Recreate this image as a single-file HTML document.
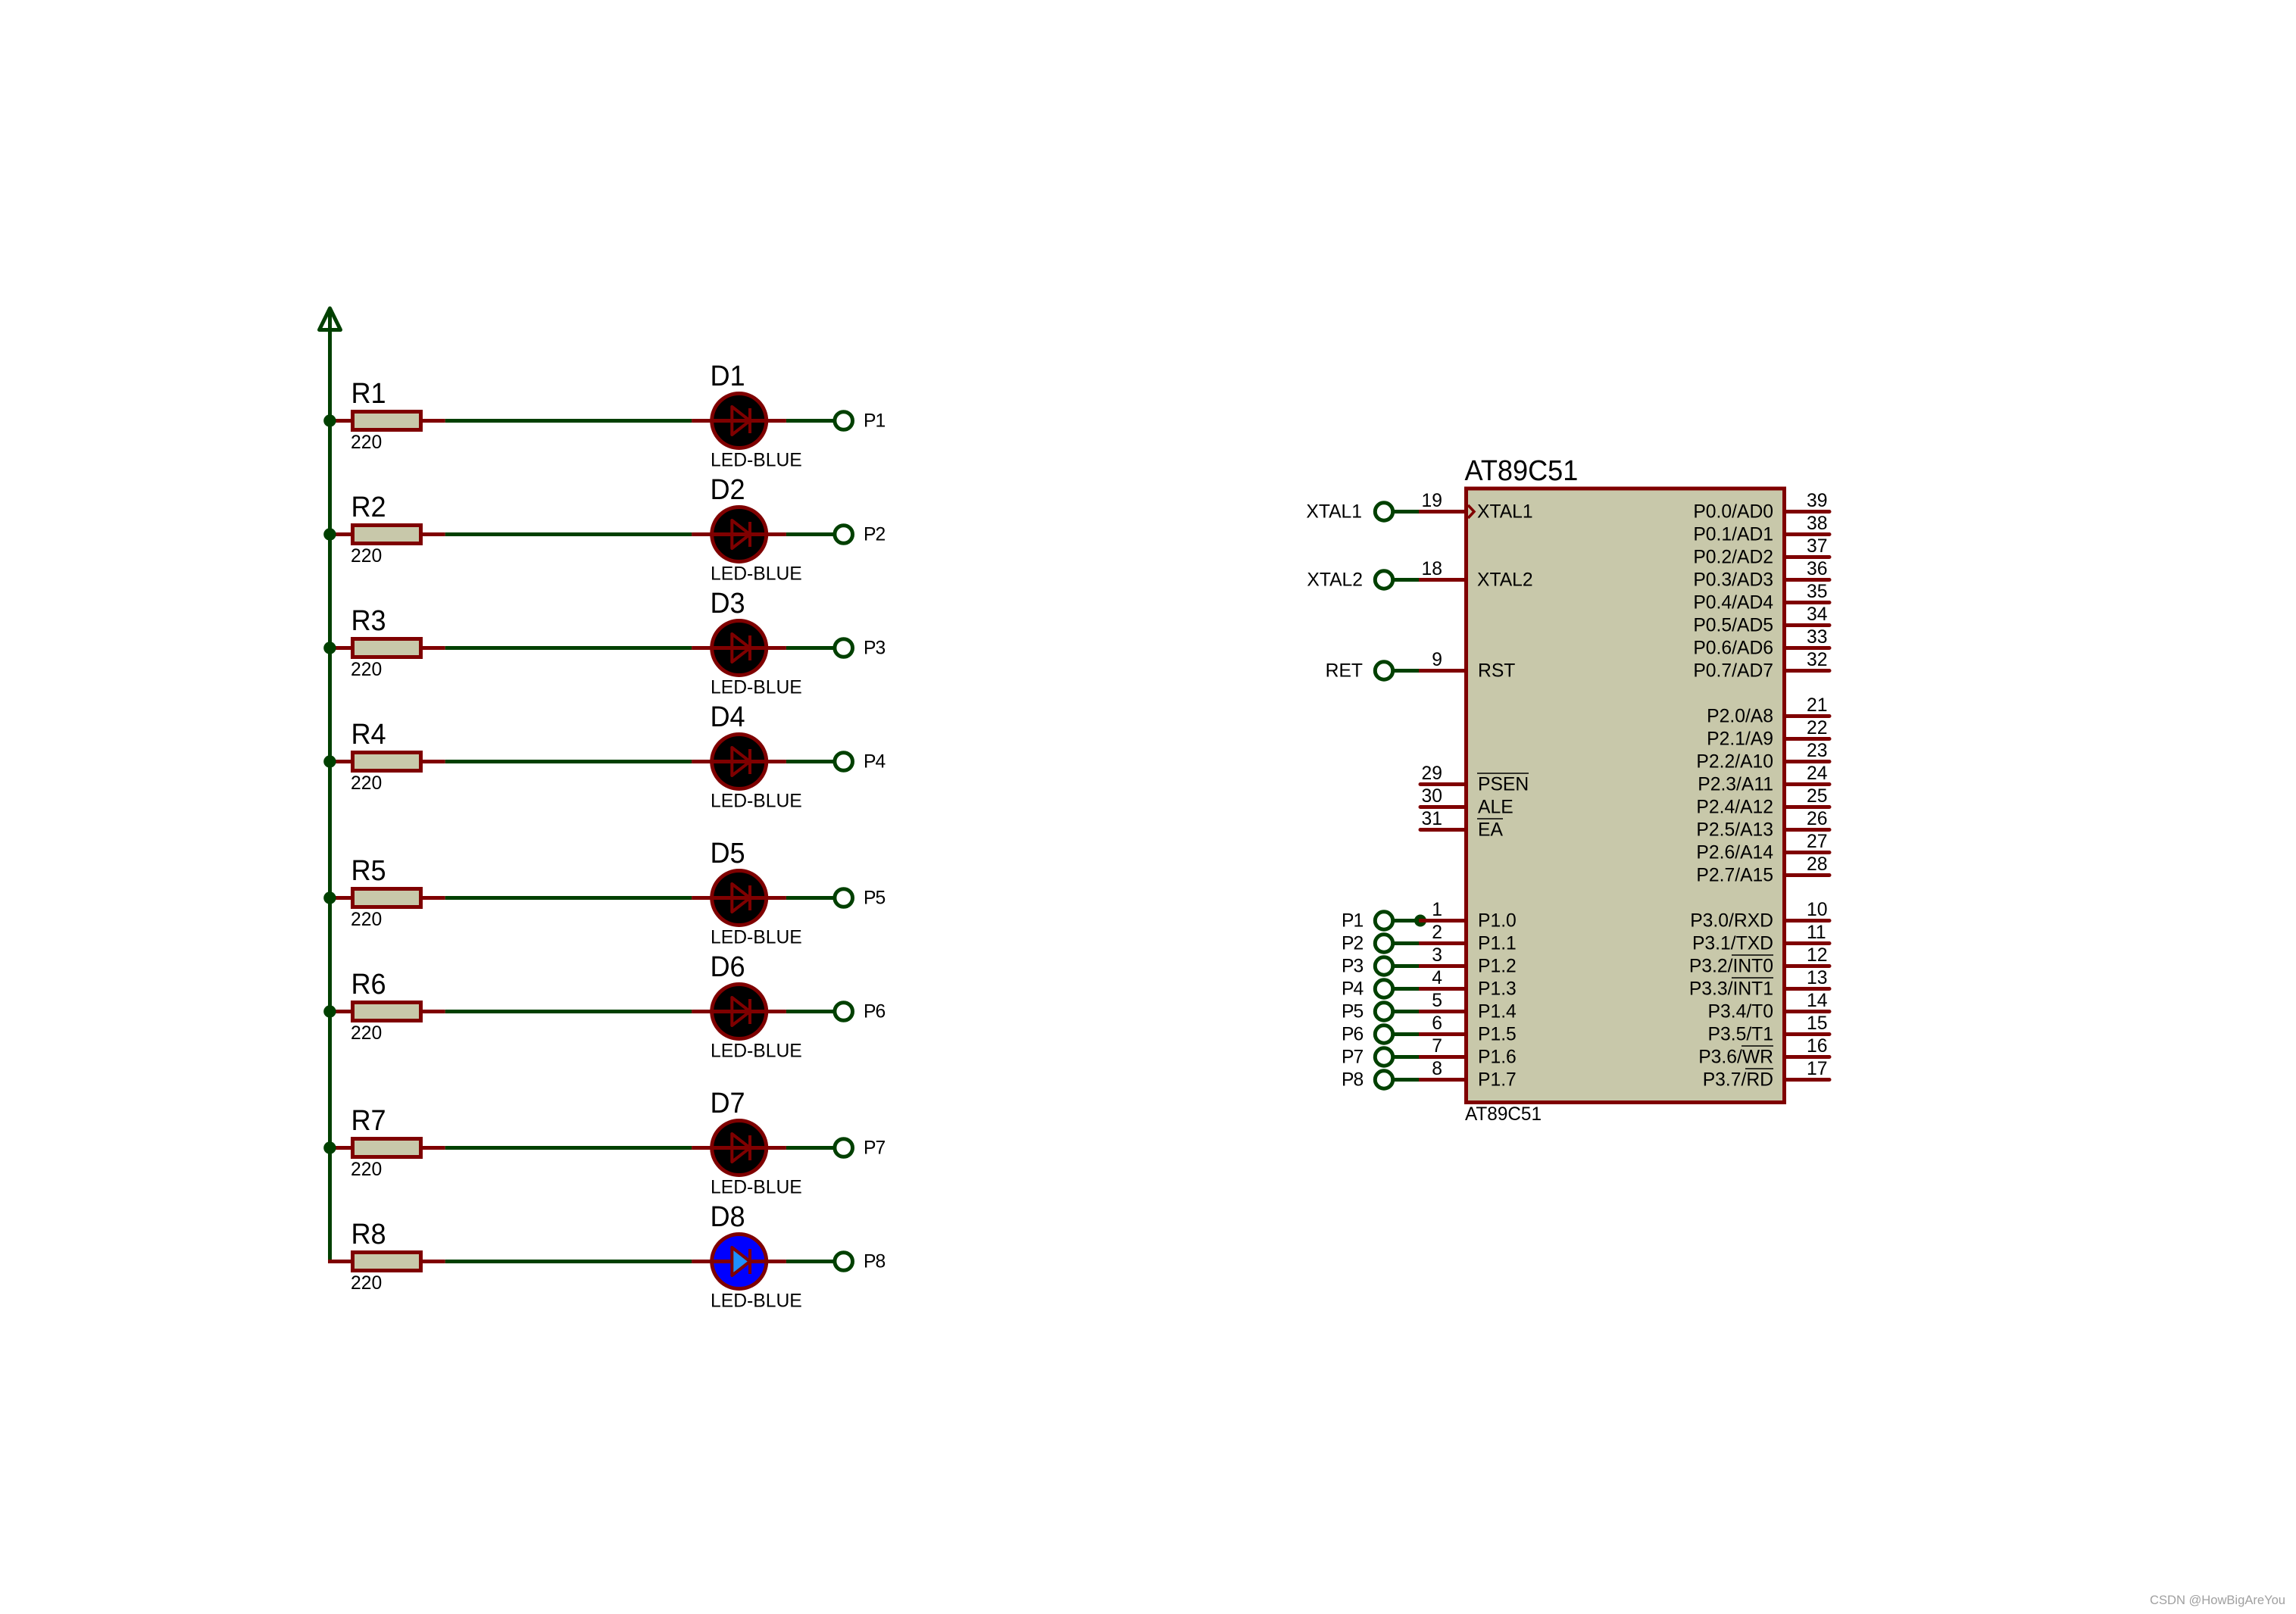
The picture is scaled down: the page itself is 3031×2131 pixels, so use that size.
<!DOCTYPE html>
<html><head><meta charset="utf-8"><style>
html,body{margin:0;padding:0;background:#fff;width:3031px;height:2131px;overflow:hidden}
svg{display:block}
text{font-family:"Liberation Sans",sans-serif;font-size:24.7px;fill:#000}
.big text{font-size:38px;transform-box:fill-box;transform-origin:0 50%;transform:scaleX(.95)}
.e{text-anchor:end}
.t text{letter-spacing:-1px}
.g{stroke:#004000;stroke-width:5;fill:none}
.r{stroke:#7f0000;stroke-width:5;fill:none}
.b{stroke:#000;stroke-width:1.6}
</style></head><body>
<svg width="3031" height="2131" viewBox="0 0 3031 2131" xmlns="http://www.w3.org/2000/svg">
<defs>
<g id="row">
<path class="r" d="M433 0H465M556 0H587.7"/>
<rect x="465.5" y="-12" width="90" height="24" fill="#c8c8aa" stroke="#7f0000" stroke-width="5"/>
<path class="g" d="M587.7 0H913.3M1037.7 0H1102"/>
<path class="r" d="M913.3 0H1037.7"/>
<circle cx="1113.7" cy="0" r="11.8" fill="#fff" stroke="#004000" stroke-width="5"/>
</g>
<g id="led">
<circle cx="975.7" cy="0" r="36" fill="#000" stroke="#7f0000" stroke-width="5"/>
<path class="r" d="M913.3 0H1037.7"/>
<path d="M966.3 -18.5L990 0L966.3 18.5Z" stroke="#7f0000" stroke-width="4" fill="none" stroke-linejoin="round"/>
<path d="M990 -16.5V16.5" stroke="#7f0000" stroke-width="4"/>
</g>
<circle id="dot" cx="435.4" cy="0" r="8.2" fill="#004000"/>
<circle id="port" cx="1827" cy="0" r="11.7" fill="#fff" stroke="#004000" stroke-width="5"/>
</defs>
<rect width="3031" height="2131" fill="#fff"/>

<!-- power rail -->
<path class="g" d="M435.5 410V1665.5H440"/>
<path d="M435.5 407L449.5 435.5H421.5Z" fill="none" stroke="#004000" stroke-width="5" stroke-linejoin="round"/>

<!-- rows -->
<use href="#row" y="555.5"/><use href="#led" y="555.5"/><use href="#dot" y="555.5"/>
<use href="#row" y="705.5"/><use href="#led" y="705.5"/><use href="#dot" y="705.5"/>
<use href="#row" y="855.5"/><use href="#led" y="855.5"/><use href="#dot" y="855.5"/>
<use href="#row" y="1005.5"/><use href="#led" y="1005.5"/><use href="#dot" y="1005.5"/>
<use href="#row" y="1185.5"/><use href="#led" y="1185.5"/><use href="#dot" y="1185.5"/>
<use href="#row" y="1335.5"/><use href="#led" y="1335.5"/><use href="#dot" y="1335.5"/>
<use href="#row" y="1515.5"/><use href="#led" y="1515.5"/><use href="#dot" y="1515.5"/>
<use href="#row" y="1665.5"/>
<circle cx="975.7" cy="1665.5" r="36" fill="#0000ff" stroke="#7f0000" stroke-width="5"/>
<path d="M966.3 1647L990 1665.5L966.3 1684Z" stroke="#7f0000" stroke-width="4" fill="#1e90ff" stroke-linejoin="round"/>
<path class="r" d="M913.3 1665.5H966M988 1665.5H1037.7"/>
<path d="M990 1649V1682" stroke="#7f0000" stroke-width="4"/>

<g class="big">
<text x="463.5" y="532">R1</text><text x="463.5" y="682">R2</text><text x="463.5" y="832">R3</text><text x="463.5" y="982">R4</text>
<text x="463.5" y="1162">R5</text><text x="463.5" y="1312">R6</text><text x="463.5" y="1492">R7</text><text x="463.5" y="1642">R8</text>
<text x="937.5" y="509">D1</text><text x="937.5" y="659">D2</text><text x="937.5" y="809">D3</text><text x="937.5" y="959">D4</text>
<text x="937.5" y="1139">D5</text><text x="937.5" y="1289">D6</text><text x="937.5" y="1469">D7</text><text x="937.5" y="1619">D8</text>
<text x="1933.5" y="634">AT89C51</text>
</g>
<g>
<text x="463" y="592">220</text><text x="463" y="742">220</text><text x="463" y="892">220</text><text x="463" y="1042">220</text>
<text x="463" y="1222">220</text><text x="463" y="1372">220</text><text x="463" y="1552">220</text><text x="463" y="1702">220</text>
<text x="938" y="615.5">LED-BLUE</text><text x="938" y="765.5">LED-BLUE</text><text x="938" y="915.5">LED-BLUE</text><text x="938" y="1065.5">LED-BLUE</text>
<text x="938" y="1245.5">LED-BLUE</text><text x="938" y="1395.5">LED-BLUE</text><text x="938" y="1575.5">LED-BLUE</text><text x="938" y="1725.5">LED-BLUE</text>
</g>
<g class="t">
<text x="1140" y="563.5">P1</text><text x="1140" y="713.5">P2</text><text x="1140" y="863.5">P3</text><text x="1140" y="1013.5">P4</text>
<text x="1140" y="1193.5">P5</text><text x="1140" y="1343.5">P6</text><text x="1140" y="1523.5">P7</text><text x="1140" y="1673.5">P8</text>
</g>

<!-- chip -->
<rect x="1935.5" y="645" width="420" height="810.5" fill="#c8c8aa" stroke="#7f0000" stroke-width="5"/>
<path d="M1938 667L1946 675.5L1938 684" fill="none" stroke="#7f0000" stroke-width="3.5"/>

<!-- left wires -->
<path class="g" d="M1839 675.5H1873M1839 765.5H1873M1839 885.5H1873M1839 1215.5H1873M1839 1245.5H1873M1839 1275.5H1873M1839 1305.5H1873M1839 1335.5H1873M1839 1365.5H1873M1839 1395.5H1873M1839 1425.5H1873"/>
<circle cx="1875" cy="1215.5" r="8" fill="#004000"/>
<path class="r" d="M1873 675.5H1933M1873 765.5H1933M1873 885.5H1933M1873 1215.5H1933M1873 1245.5H1933M1873 1275.5H1933M1873 1305.5H1933M1873 1335.5H1933M1873 1365.5H1933M1873 1395.5H1933M1873 1425.5H1933"/>
<path class="r" stroke-linecap="round" d="M1875 1035.5H1933M1875 1065.5H1933M1875 1095.5H1933"/>
<use href="#port" y="675.5"/><use href="#port" y="765.5"/><use href="#port" y="885.5"/>
<use href="#port" y="1215.5"/><use href="#port" y="1245.5"/><use href="#port" y="1275.5"/><use href="#port" y="1305.5"/>
<use href="#port" y="1335.5"/><use href="#port" y="1365.5"/><use href="#port" y="1395.5"/><use href="#port" y="1425.5"/>

<!-- right pins -->
<path class="r" stroke-linecap="round" d="M2358 675.5H2415M2358 705.5H2415M2358 735.5H2415M2358 765.5H2415M2358 795.5H2415M2358 825.5H2415M2358 855.5H2415M2358 885.5H2415M2358 945.5H2415M2358 975.5H2415M2358 1005.5H2415M2358 1035.5H2415M2358 1065.5H2415M2358 1095.5H2415M2358 1125.5H2415M2358 1155.5H2415M2358 1215.5H2415M2358 1245.5H2415M2358 1275.5H2415M2358 1305.5H2415M2358 1335.5H2415M2358 1365.5H2415M2358 1395.5H2415M2358 1425.5H2415"/>

<!-- outside left labels -->
<text x="1798" y="683.5" class="e">XTAL1</text><text x="1799" y="773.5" class="e">XTAL2</text><text x="1799" y="893.5" class="e">RET</text>
<g class="t">
<text x="1771" y="1223.5">P1</text><text x="1771" y="1253.5">P2</text><text x="1771" y="1283.5">P3</text><text x="1771" y="1313.5">P4</text>
<text x="1771" y="1343.5">P5</text><text x="1771" y="1373.5">P6</text><text x="1771" y="1403.5">P7</text><text x="1771" y="1433.5">P8</text>
</g>

<!-- left pin numbers -->
<text x="1904" y="669" class="e">19</text><text x="1904" y="759" class="e">18</text><text x="1904" y="879" class="e">9</text>
<text x="1904" y="1029" class="e">29</text><text x="1904" y="1059" class="e">30</text><text x="1904" y="1089" class="e">31</text>
<text x="1904" y="1209" class="e">1</text><text x="1904" y="1239" class="e">2</text><text x="1904" y="1269" class="e">3</text><text x="1904" y="1299" class="e">4</text>
<text x="1904" y="1329" class="e">5</text><text x="1904" y="1359" class="e">6</text><text x="1904" y="1389" class="e">7</text><text x="1904" y="1419" class="e">8</text>

<!-- left inside labels -->
<text x="1950" y="683.5">XTAL1</text><text x="1950" y="773.5">XTAL2</text><text x="1951" y="893.5">RST</text>
<text x="1951" y="1043.5">PSEN</text><text x="1951" y="1073.5">ALE</text><text x="1951" y="1103.5">EA</text>
<path class="b" d="M1950 1021H2018M1950 1081H1984"/>
<text x="1951" y="1223.5">P1.0</text><text x="1951" y="1253.5">P1.1</text><text x="1951" y="1283.5">P1.2</text><text x="1951" y="1313.5">P1.3</text>
<text x="1951" y="1343.5">P1.4</text><text x="1951" y="1373.5">P1.5</text><text x="1951" y="1403.5">P1.6</text><text x="1951" y="1433.5">P1.7</text>

<!-- right inside labels -->
<text x="2341" y="683.5" class="e">P0.0/AD0</text><text x="2341" y="713.5" class="e">P0.1/AD1</text><text x="2341" y="743.5" class="e">P0.2/AD2</text><text x="2341" y="773.5" class="e">P0.3/AD3</text>
<text x="2341" y="803.5" class="e">P0.4/AD4</text><text x="2341" y="833.5" class="e">P0.5/AD5</text><text x="2341" y="863.5" class="e">P0.6/AD6</text><text x="2341" y="893.5" class="e">P0.7/AD7</text>
<text x="2341" y="953.5" class="e">P2.0/A8</text><text x="2341" y="983.5" class="e">P2.1/A9</text><text x="2341" y="1013.5" class="e">P2.2/A10</text><text x="2341" y="1043.5" class="e">P2.3/A11</text>
<text x="2341" y="1073.5" class="e">P2.4/A12</text><text x="2341" y="1103.5" class="e">P2.5/A13</text><text x="2341" y="1133.5" class="e">P2.6/A14</text><text x="2341" y="1163.5" class="e">P2.7/A15</text>
<text x="2341" y="1223.5" class="e">P3.0/RXD</text><text x="2341" y="1253.5" class="e">P3.1/TXD</text><text x="2341" y="1283.5" class="e">P3.2/INT0</text><text x="2341" y="1313.5" class="e">P3.3/INT1</text>
<text x="2341" y="1343.5" class="e">P3.4/T0</text><text x="2341" y="1373.5" class="e">P3.5/T1</text><text x="2341" y="1403.5" class="e">P3.6/WR</text><text x="2341" y="1433.5" class="e">P3.7/RD</text>
<path class="b" d="M2286 1261H2341M2286 1291H2341M2299 1381H2341M2304 1411H2341"/>

<!-- right numbers -->
<text x="2385" y="669">39</text><text x="2385" y="699">38</text><text x="2385" y="729">37</text><text x="2385" y="759">36</text>
<text x="2385" y="789">35</text><text x="2385" y="819">34</text><text x="2385" y="849">33</text><text x="2385" y="879">32</text>
<text x="2385" y="939">21</text><text x="2385" y="969">22</text><text x="2385" y="999">23</text><text x="2385" y="1029">24</text>
<text x="2385" y="1059">25</text><text x="2385" y="1089">26</text><text x="2385" y="1119">27</text><text x="2385" y="1149">28</text>
<text x="2385" y="1209">10</text><text x="2385" y="1239">11</text><text x="2385" y="1269">12</text><text x="2385" y="1299">13</text>
<text x="2385" y="1329">14</text><text x="2385" y="1359">15</text><text x="2385" y="1389">16</text><text x="2385" y="1419">17</text>

<text x="1934" y="1479" textLength="101" lengthAdjust="spacingAndGlyphs">AT89C51</text>
<text x="2838" y="2118" textLength="179" lengthAdjust="spacingAndGlyphs" style="font-size:17px;fill:#a0a0a0">CSDN @HowBigAreYou</text>
</svg>
</body></html>
